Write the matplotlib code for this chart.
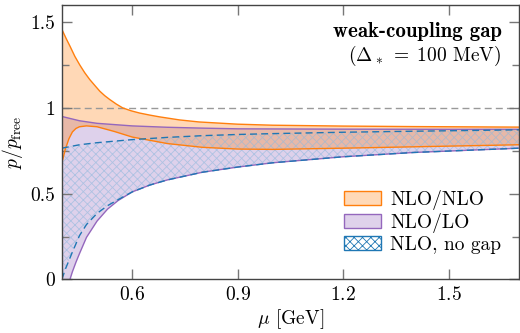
import numpy as np
import matplotlib
matplotlib.use("Agg")
import matplotlib.pyplot as plt
from matplotlib.patches import Patch
from matplotlib.ticker import MultipleLocator

plt.rcParams['font.family'] = 'cmr10'
plt.rcParams['mathtext.fontset'] = 'cm'
plt.rcParams['axes.formatter.use_mathtext'] = True
plt.rcParams['hatch.linewidth'] = 0.6

# NLO/NLO band
mu_nn_up = [0.40, 0.412, 0.423, 0.437, 0.451, 0.465, 0.479, 0.494, 0.508, 0.522, 0.536, 0.555, 0.573, 0.597, 0.621, 0.65, 0.677, 0.734, 0.79, 0.90, 1.00, 1.20, 1.40, 1.70]
nn_up    = [1.458, 1.405, 1.36, 1.30, 1.25, 1.205, 1.166, 1.13, 1.097, 1.071, 1.049, 1.022, 1.0, 0.983, 0.97, 0.958, 0.948, 0.93, 0.918, 0.905, 0.899, 0.894, 0.891, 0.888]
mu_nn_lo = [0.40, 0.41, 0.42, 0.43, 0.44, 0.45, 0.47, 0.50, 0.55, 0.60, 0.70, 0.80, 0.90, 1.00, 1.20, 1.50, 1.70]
nn_lo    = [0.68, 0.76, 0.82, 0.86, 0.88, 0.89, 0.895, 0.89, 0.862, 0.83, 0.792, 0.77, 0.76, 0.758, 0.765, 0.777, 0.785]

# NLO/LO band
mu_nl_up = [0.40, 0.45, 0.50, 0.60, 0.70, 0.80, 0.90, 1.20, 1.50, 1.70]
nl_up    = [0.95, 0.925, 0.91, 0.895, 0.887, 0.882, 0.878, 0.876, 0.875, 0.875]
mu_nl_lo = [0.423, 0.43, 0.44, 0.45, 0.47, 0.50, 0.53, 0.56, 0.60, 0.65, 0.70, 0.80, 0.90, 1.00, 1.20, 1.40, 1.70]
nl_lo    = [0.0, 0.045, 0.10, 0.15, 0.245, 0.34, 0.41, 0.46, 0.51, 0.55, 0.58, 0.625, 0.655, 0.68, 0.715, 0.74, 0.765]

# NLO, no gap band
mu_ng_up = [0.40, 0.45, 0.50, 0.60, 0.70, 0.80, 0.90, 1.00, 1.20, 1.40, 1.70]
ng_up    = [0.765, 0.785, 0.797, 0.815, 0.828, 0.838, 0.845, 0.850, 0.858, 0.864, 0.872]
mu_ng_lo = [0.40, 0.41, 0.42, 0.43, 0.45, 0.47, 0.50, 0.53, 0.56, 0.60, 0.65, 0.70, 0.80, 0.90, 1.00, 1.20, 1.40, 1.70]
ng_lo    = [0.0, 0.06, 0.11, 0.16, 0.255, 0.32, 0.385, 0.43, 0.465, 0.51, 0.55, 0.58, 0.625, 0.655, 0.68, 0.715, 0.74, 0.765]

legend_labels = ["NLO/NLO", "NLO/LO", "NLO, no gap"]

orange = '#ff7f0e'
purple = '#9467bd'
blue = '#1f77b4'
FS = 14

fig = plt.figure(figsize=(5.2, 3.33), dpi=100)
ax = fig.add_axes([0.119, 0.161, 0.879, 0.824])

grid = np.linspace(0.4, 1.7, 400)

def band(mu_a, a, mu_b, b):
    g = grid
    ya = np.interp(g, mu_a, a, left=np.nan)
    yb = np.interp(g, mu_b, b, left=np.nan)
    return g, ya, yb

# NLO/LO (purple)
g, pu, pl = band(mu_nl_up, nl_up, mu_nl_lo, nl_lo)
pl_f = np.where(np.isnan(pl), 0.0, pl)
ax.fill_between(g, pl_f, pu, facecolor=purple, alpha=0.3, linewidth=0)

# NLO/NLO (orange)
g, ou, ol = band(mu_nn_up, nn_up, mu_nn_lo, nn_lo)
ax.fill_between(g, ol, ou, facecolor=orange, alpha=0.3, linewidth=0)

# No gap hatched
g, bu, bl = band(mu_ng_up, ng_up, mu_ng_lo, ng_lo)
ax.fill_between(g, bl, bu, facecolor='none', edgecolor='#8fb8dc', hatch='xxxx', linewidth=0, alpha=0.6)

ax.axhline(1.0, color='#999999', ls=(0, (5, 3)), lw=1.0, zorder=1)

ax.plot(mu_nl_up, nl_up, color=purple, lw=1.0)
ax.plot(mu_nl_lo, nl_lo, color=purple, lw=1.0)
ax.plot(mu_nn_up, nn_up, color=orange, lw=1.0)
ax.plot(mu_nn_lo, nn_lo, color=orange, lw=1.0)
ax.plot(mu_ng_up, ng_up, color=blue, lw=1.0, ls=(0, (5, 3)))
ax.plot(mu_ng_lo, ng_lo, color=blue, lw=1.0, ls=(0, (5, 3)))

ax.set_xlim(0.4, 1.7)
ax.set_ylim(0, 1.6)
ax.set_xticks([0.6, 0.9, 1.2, 1.5])
ax.set_yticks([0, 0.5, 1, 1.5])
ax.set_yticklabels(['0', '0.5', '1', '1.5'])
ax.yaxis.set_minor_locator(MultipleLocator(0.25))
ax.tick_params(which='both', direction='in', top=True, right=True, labelsize=FS,
               color='#777777', width=1.0)
ax.tick_params(which='major', length=7, pad=5)
ax.tick_params(which='minor', length=5)
for s in ax.spines.values():
    s.set_color('#444444')
    s.set_linewidth(1.0)

ax.set_xlabel(r'$\mu$ [GeV]', fontsize=FS, labelpad=2)
ax.set_ylabel(r'$p/p_{\mathrm{free}}$', fontsize=FS, labelpad=4)

ax.text(0.962, 0.905, 'weak-coupling gap', transform=ax.transAxes, ha='right', va='center',
        fontsize=15, family='cmb10')
ax.text(0.962, 0.815, r'($\Delta_*\;=\;100$ MeV)', transform=ax.transAxes, ha='right', va='center',
        fontsize=FS)

handles = [Patch(facecolor=(1.0, 0.85, 0.72), edgecolor=orange),
           Patch(facecolor=(0.875, 0.82, 0.92), edgecolor=purple),
           Patch(facecolor='white', edgecolor=blue, hatch='xxxx')]
leg = ax.legend(handles, legend_labels, loc='lower right', bbox_to_anchor=(1.0, 0.03),
                frameon=False, fontsize=FS, handlelength=1.9, handleheight=0.75,
                handletextpad=0.5, labelspacing=0.15)
fig.savefig('out.png', dpi=100)
